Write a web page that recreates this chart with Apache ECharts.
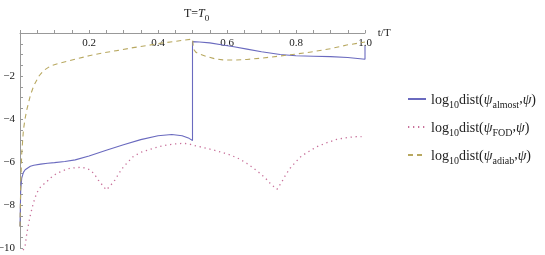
<!DOCTYPE html>
<html><head><meta charset="utf-8">
<script src="https://cdn.jsdelivr.net/npm/echarts@6/dist/echarts.min.js"></script>
<style>html,body{margin:0;padding:0;background:#fff}#c{width:545px;height:255px}</style>
</head><body><div id="c"></div>
<script>
// ---- data ----
const tAlmost = [0, 0.002, 0.005, 0.01, 0.015, 0.02, 0.03, 0.04, 0.06, 0.08, 0.1, 0.13, 0.16, 0.2, 0.25, 0.3, 0.35, 0.4, 0.44, 0.47, 0.49, 0.5,
  0.5, 0.52, 0.55, 0.588, 0.62, 0.658, 0.7, 0.754, 0.8, 0.85, 0.9, 0.95, 1.0, 1.0];
const vAlmost = [-9.0, -7.3, -6.75, -6.48, -6.36, -6.28, -6.2, -6.15, -6.1, -6.06, -6.03, -5.98, -5.9, -5.72, -5.45, -5.2, -4.96, -4.78, -4.72, -4.78, -4.9, -5.0,
  -0.4, -0.42, -0.46, -0.56, -0.64, -0.75, -0.87, -1.0, -1.06, -1.08, -1.1, -1.14, -1.22, -0.6];

const tFOD = [0.009, 0.0145, 0.02, 0.029, 0.038, 0.048, 0.06, 0.077, 0.09, 0.106, 0.125, 0.145, 0.174, 0.19, 0.203, 0.215, 0.227, 0.24, 0.25,
  0.262, 0.275, 0.288, 0.3, 0.328, 0.35, 0.377, 0.4, 0.425, 0.45, 0.473, 0.49, 0.512, 0.535, 0.56, 0.585, 0.609, 0.635, 0.657, 0.676, 0.696,
  0.712, 0.725, 0.736, 0.745, 0.759, 0.77, 0.783, 0.8, 0.816, 0.84, 0.86, 0.89, 0.918, 0.95, 0.976, 0.99];
const vFOD = [-10.1, -9.94, -9.3, -8.54, -7.95, -7.46, -7.15, -6.92, -6.72, -6.53, -6.4, -6.29, -6.25, -6.28, -6.37, -6.55, -6.84, -7.1, -7.3,
  -7.1, -6.84, -6.5, -6.22, -5.75, -5.55, -5.41, -5.3, -5.21, -5.16, -5.13, -5.16, -5.26, -5.34, -5.44, -5.55, -5.67, -5.85, -6.06, -6.28, -6.53,
  -6.76, -6.99, -7.15, -7.27, -6.92, -6.6, -6.29, -5.98, -5.72, -5.48, -5.29, -5.1, -4.95, -4.86, -4.82, -4.82];

const tAdiab = [0, 0.002, 0.005, 0.01, 0.0145, 0.02, 0.03, 0.04, 0.055, 0.068, 0.09, 0.11, 0.135, 0.17, 0.2, 0.232, 0.28, 0.328, 0.37, 0.406, 0.45, 0.5,
  0.503, 0.51, 0.52, 0.542, 0.565, 0.588, 0.62, 0.658, 0.7, 0.754, 0.8, 0.849, 0.9, 0.947, 1.0];
const vAdiab = [-9.0, -7.2, -5.6, -4.5, -4.0, -3.55, -2.9, -2.45, -2.0, -1.75, -1.52, -1.42, -1.32, -1.18, -1.06, -0.95, -0.82, -0.68, -0.58, -0.48, -0.39, -0.28,
  -0.75, -0.9, -0.98, -1.1, -1.2, -1.25, -1.26, -1.23, -1.17, -1.07, -0.98, -0.87, -0.73, -0.56, -0.42];

const xTicks = [0.2, 0.4, 0.6, 0.8, 1.0];
const yTicks = [-2, -4, -6, -8, -10];
const seriesNames = ['almost', 'FOD', 'adiab'];

const zip = (a, b) => a.map((x, i) => [x, b[i]]);
const serif = '"Liberation Serif", "DejaVu Serif", serif';

const chart = echarts.init(document.getElementById('c'), null, {renderer: 'canvas'});
const legendRich = {
  a: {fontFamily: serif, fontSize: 14, color: '#222', lineHeight: 16, verticalAlign: 'bottom'},
  i: {fontFamily: serif, fontSize: 14, fontStyle: 'italic', color: '#222', lineHeight: 16, verticalAlign: 'bottom'},
  s: {fontFamily: serif, fontSize: 10, color: '#222', lineHeight: 10, verticalAlign: 'bottom', padding: [0, 0, -3, 0]}
};
chart.setOption({
  animation: false,
  backgroundColor: '#fff',
  title: {
    text: '{a|T=}{i|T}{s|0}',
    left: 179, top: 1,
    textStyle: {fontWeight: 'normal', rich: {
      a: {fontFamily: serif, fontSize: 12, fontWeight: 'normal', color: '#222', lineHeight: 14, verticalAlign: 'bottom'},
      i: {fontFamily: serif, fontSize: 12, fontWeight: 'normal', fontStyle: 'italic', color: '#222', lineHeight: 14, verticalAlign: 'bottom'},
      s: {fontFamily: serif, fontSize: 9, fontWeight: 'normal', color: '#222', lineHeight: 9, verticalAlign: 'bottom', padding: [0, 0, -3, 0]}
    }}
  },
  legend: {
    orient: 'vertical', left: 402, top: 87, itemGap: 10, itemWidth: 18, itemHeight: 10,
    data: seriesNames,
    itemStyle: {opacity: 0},
    formatter: n => '{a|log}{s|10}{a|dist(}{i|ψ}{s|' + n + '},{i|ψ}{a|)}',
    textStyle: {rich: legendRich, fontFamily: serif, fontSize: 14, color: '#222'}
  },
  grid: {left: 20, top: 33, width: 345, height: 215, containLabel: false, outerBoundsMode: 'none'},
  xAxis: {
    type: 'value', position: 'top', min: 0, max: 1, interval: 0.05,
    name: 't/T', nameLocation: 'end', nameGap: 8,
    nameTextStyle: {fontFamily: serif, fontSize: 11, color: '#222', align: 'left', verticalAlign: 'middle'},
    axisLine: {onZero: false, lineStyle: {color: '#999', width: 1}},
    axisTick: {inside: false, length: 3, lineStyle: {color: '#999'}},
    axisLabel: {inside: true, margin: 5, fontFamily: serif, fontSize: 11, color: '#222',
      formatter: v => xTicks.some(t => Math.abs(t - v) < 1e-6) ? v.toFixed(1) : ''},
    splitLine: {show: false}
  },
  yAxis: {
    type: 'value', min: -10, max: 0, interval: 0.5,
    axisLine: {onZero: false, lineStyle: {color: '#999', width: 1}},
    axisTick: {inside: true, length: 3, lineStyle: {color: '#999'}},
    axisLabel: {margin: 5, fontFamily: serif, fontSize: 11, color: '#222',
      formatter: v => yTicks.some(t => Math.abs(t - v) < 1e-6) ? '\u2212' + Math.abs(v) : ''},
    splitLine: {show: false}
  },
  series: [
    {name: 'almost', type: 'line', data: zip(tAlmost, vAlmost), showSymbol: false, symbol: 'none', clip: false,
      lineStyle: {color: '#6a6abf', width: 1.1}, itemStyle: {color: '#6a6abf'}},
    {name: 'FOD', type: 'line', data: zip(tFOD, vFOD), showSymbol: false, symbol: 'none', clip: false,
      lineStyle: {color: '#c8709a', width: 1.3, type: [1.3, 3.7]}, itemStyle: {color: '#c8709a'}},
    {name: 'adiab', type: 'line', data: zip(tAdiab, vAdiab), showSymbol: false, symbol: 'none', clip: false,
      lineStyle: {color: '#b8a860', width: 1.1, type: [5, 4]}, itemStyle: {color: '#b8a860'}}
  ]
});
</script></body></html>
